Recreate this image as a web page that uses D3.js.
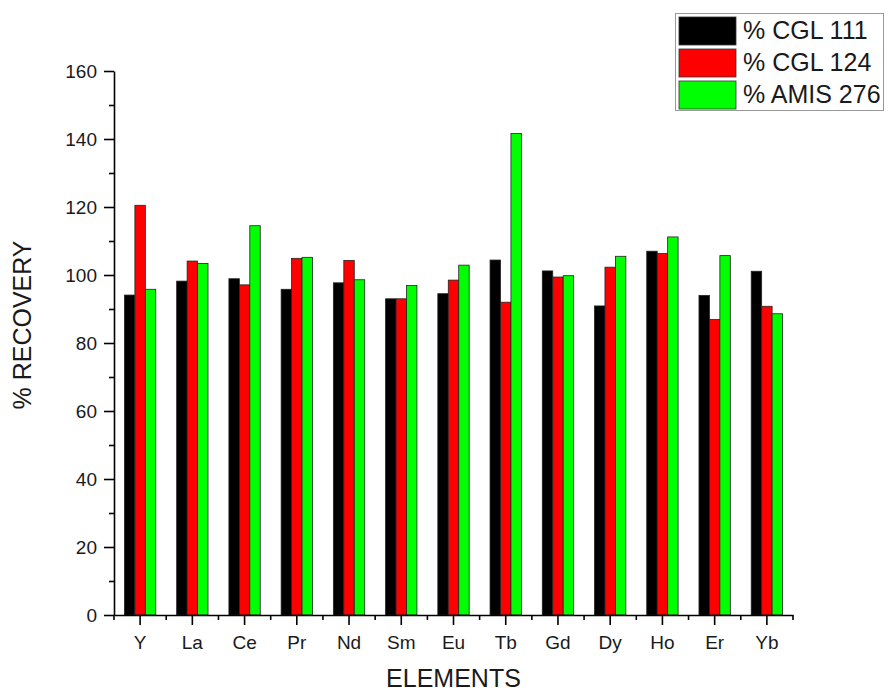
<!DOCTYPE html>
<html>
<head>
<meta charset="utf-8">
<style>
body { margin: 0; background: #fff; }
svg { font-family: "Liberation Sans", Arial, sans-serif; }
.axis .domain { stroke: #000; stroke-width: 1.6; }
.axis line { stroke: #000; stroke-width: 1.6; }
.axis text { fill: #1a1a1a; font-size: 19px; }
</style>
</head>
<body>
<svg width="890" height="693"></svg>
<script src="https://cdn.jsdelivr.net/npm/d3@7/dist/d3.min.js"></script>
<script>

var elements = ["Y", "La", "Ce", "Pr", "Nd", "Sm", "Eu", "Tb", "Gd", "Dy", "Ho", "Er", "Yb"];
var series = ["% CGL 111", "% CGL 124", "% AMIS 276"];
var colors = ["#000000", "#ff0000", "#00ff00"];

var cgl111  = [94.1, 98.2, 98.9, 95.8, 97.7, 93.0, 94.5, 104.4, 101.2, 90.9, 107.0, 94.0, 101.1];
var cgl124  = [120.5, 104.1, 97.1, 104.9, 104.3, 93.0, 98.5, 92.0, 99.4, 102.3, 106.3, 86.9, 90.8];
var amis276 = [95.8, 103.4, 114.5, 105.2, 98.6, 96.9, 102.9, 141.6, 99.8, 105.5, 111.2, 105.7, 88.6];

var majorTicks = [0, 20, 40, 60, 80, 100, 120, 140, 160];
var minorTicks = [10, 30, 50, 70, 90, 110, 130, 150];

var values = [cgl111, cgl124, amis276];

var svg = d3.select("svg"),
    plotLeft = 114, plotRight = 793, plotTop = 71, plotBottom = 615;

var x = d3.scaleBand().domain(elements).range([plotLeft, plotRight]).padding(0);
var x1 = d3.scaleBand().domain(series).range([0, x.bandwidth() * 0.6]);
var y = d3.scaleLinear().domain([0, 160]).range([plotBottom, plotTop]);
var z = d3.scaleOrdinal().domain(series).range(colors);

// bars
var groups = svg.append("g")
  .selectAll("g")
  .data(elements)
  .enter().append("g")
    .attr("transform", function(d) { return "translate(" + (x(d) + x.bandwidth() * 0.2) + ",0)"; });

groups.selectAll("rect")
  .data(function(d, i) { return series.map(function(s, j) { return {key: s, value: values[j][i]}; }); })
  .enter().append("rect")
    .attr("x", function(d) { return x1(d.key); })
    .attr("y", function(d) { return y(d.value); })
    .attr("width", x1.bandwidth())
    .attr("height", function(d) { return plotBottom - y(d.value); })
    .attr("fill", function(d) { return z(d.key); })
    .attr("stroke", "#222")
    .attr("stroke-width", 0.8);

// y axis
svg.append("g")
    .attr("class", "axis")
    .attr("transform", "translate(" + plotLeft + ",0)")
    .call(d3.axisLeft(y).tickValues(majorTicks).tickSize(10).tickSizeOuter(0).tickPadding(7));

svg.append("g")
    .attr("class", "axis")
    .attr("transform", "translate(" + plotLeft + ",0)")
    .call(d3.axisLeft(y).tickValues(minorTicks).tickSize(5).tickSizeOuter(0).tickFormat(""))
    .select(".domain").remove();

// x axis
svg.append("g")
    .attr("class", "axis")
    .attr("transform", "translate(0," + plotBottom + ")")
    .call(d3.axisBottom(x).tickSize(10).tickSizeOuter(0).tickPadding(11));

var bounds = elements.map(function(d) { return x(d); }).concat([x.range()[1]]);
svg.append("g")
  .selectAll("line")
  .data(bounds)
  .enter().append("line")
    .attr("x1", function(d) { return d; })
    .attr("x2", function(d) { return d; })
    .attr("y1", plotBottom)
    .attr("y2", plotBottom + 5)
    .attr("stroke", "#000")
    .attr("stroke-width", 1.6);

// axis titles
svg.append("text")
    .attr("transform", "translate(31," + ((plotTop + plotBottom) / 2 - 18) + ") rotate(-90)")
    .attr("text-anchor", "middle")
    .attr("font-size", 25)
    .attr("fill", "#1a1a1a")
    .text("% RECOVERY");

svg.append("text")
    .attr("x", (plotLeft + plotRight) / 2)
    .attr("y", 687)
    .attr("text-anchor", "middle")
    .attr("font-size", 25)
    .attr("fill", "#1a1a1a")
    .text("ELEMENTS");

// legend
var legend = svg.append("g");
legend.append("rect")
    .attr("x", 675.5).attr("y", 13.5)
    .attr("width", 208).attr("height", 97)
    .attr("fill", "#fff")
    .attr("stroke", "#999")
    .attr("stroke-width", 1);

var item = legend.selectAll("g")
  .data(series)
  .enter().append("g")
    .attr("transform", function(d, i) { return "translate(679," + (17 + i * 32) + ")"; });

item.append("rect")
    .attr("width", 57)
    .attr("height", 28)
    .attr("fill", z)
    .attr("stroke", "#333")
    .attr("stroke-width", 0.8);

item.append("text")
    .attr("x", 64)
    .attr("y", 22)
    .attr("font-size", 25)
    .attr("fill", "#1a1a1a")
    .text(function(d) { return d; });

</script>
</body>
</html>
